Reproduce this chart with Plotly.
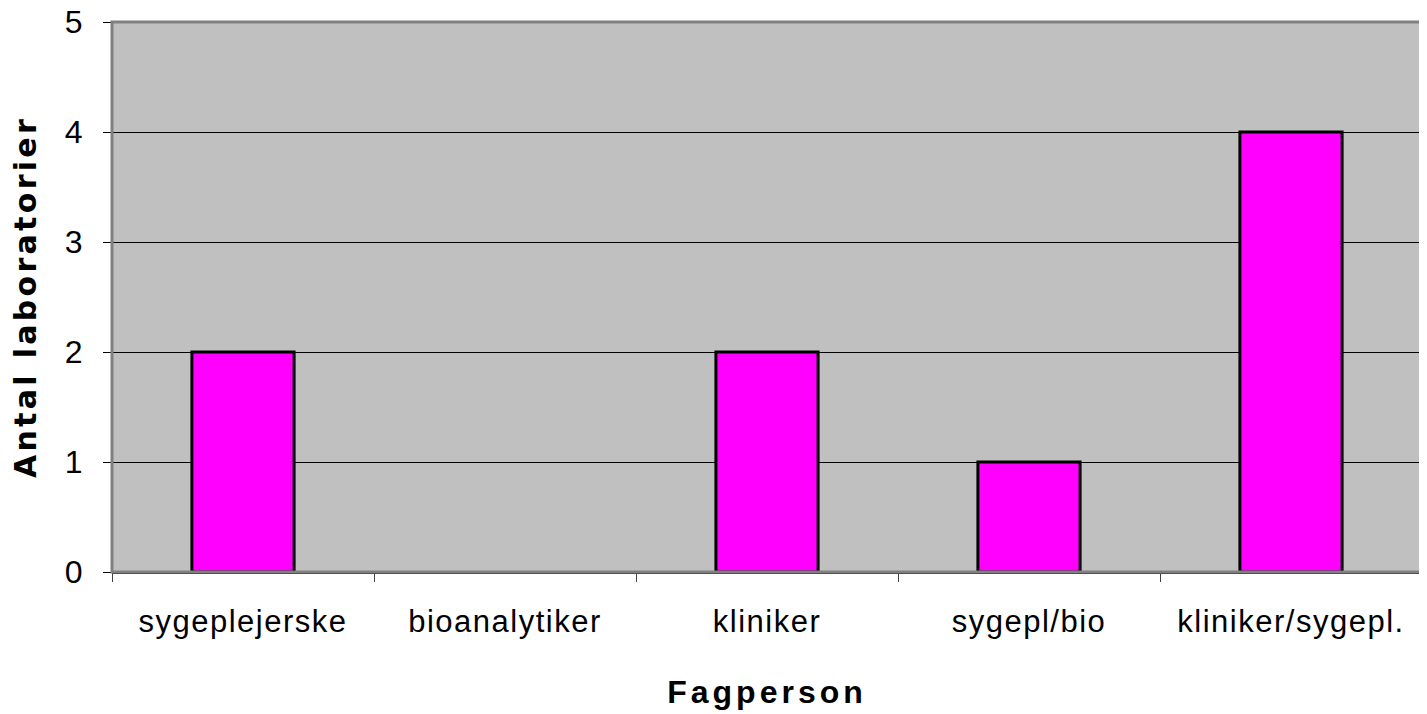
import plotly.graph_objects as go

categories = ["sygeplejerske", "bioanalytiker", "kliniker", "sygepl/bio", "kliniker/sygepl."]
values = [2, 0, 2, 1, 4]
y_ticks = [0, 1, 2, 3, 4, 5]

outline_widths = [3 if v > 0 else 0 for v in values]
spaced_labels = ['<span style="letter-spacing:1.5px">%s</span>' % c for c in categories]

fig = go.Figure()
fig.add_trace(go.Bar(
    x=categories, y=values, width=0.39,
    marker=dict(color="#FF00FF", line=dict(color="black", width=outline_widths)),
))

fig.update_layout(
    width=1419, height=706,
    margin=dict(l=104, r=5, t=14, b=142, autoexpand=False),
    plot_bgcolor="#C0C0C0", paper_bgcolor="white",
    font=dict(family="Liberation Sans, Arial, sans-serif", color="black"),
    showlegend=False,
    shapes=[dict(type="rect", xref="paper", yref="paper", x0=0, x1=1, y0=0, y1=1,
                 line=dict(color="#808080", width=3), layer="above")],
)
fig.update_xaxes(
    type="category", tickson="boundaries", ticks="outside", ticklen=8,
    tickcolor="#404040", tickwidth=1,
    tickvals=categories, ticktext=spaced_labels,
    showline=True, linecolor="#202020", linewidth=2,
    tickfont=dict(size=31), ticklabelstandoff=21,
    title=dict(text='<span style="letter-spacing:4px">Fagperson</span>',
               font=dict(size=32, family="Liberation Sans, Arial, sans-serif", weight="bold"),
               standoff=42),
    automargin=False,
)
fig.update_yaxes(
    range=[0, 5], tickvals=y_ticks, ticks="outside", ticklen=8,
    tickcolor="black", showgrid=True, gridcolor="black", gridwidth=1,
    zeroline=False, showline=False, ticklabeloverflow="allow",
    tickfont=dict(size=32), ticklabelstandoff=14,
    title=dict(text='<span style="letter-spacing:3.3px">Antal laboratorier</span>',
               font=dict(size=30, family="DejaVu Sans, sans-serif", weight="bold"),
               standoff=22),
    automargin=False,
)

fig.write_html("out.html")
